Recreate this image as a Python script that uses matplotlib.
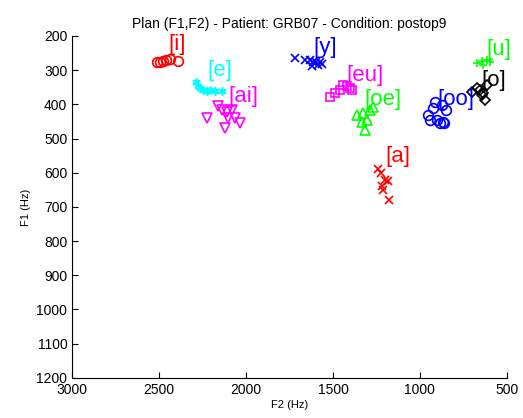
import matplotlib
matplotlib.use('Agg')
import matplotlib.pyplot as plt

plt.rcParams['font.family'] = ['Liberation Sans', 'DejaVu Sans']

# F2 / F1 values (Hz), one pair of lists per vowel
i_f2 = [2512, 2494, 2477, 2460, 2437, 2391]
i_f1 = [276, 276, 273, 270, 267, 273]

e_f2 = [2287, 2276, 2264, 2247, 2224, 2207, 2178, 2138]
e_f1 = [334, 346, 352, 358, 361, 358, 361, 361]

ai_f2 = [2224, 2161, 2138, 2109, 2080, 2103, 2063, 2034, 2121]
ai_f1 = [440, 405, 416, 422, 416, 440, 440, 454, 469]

y_f2 = [1718, 1661, 1632, 1615, 1598, 1575, 1621, 1586, 1563]
y_f1 = [264, 270, 270, 276, 276, 276, 288, 285, 282]

eu_f2 = [1517, 1489, 1460, 1443, 1420, 1402, 1391]
eu_f1 = [378, 367, 358, 343, 346, 352, 358]

oe_f2 = [1362, 1328, 1287, 1270, 1316, 1333, 1305]
oe_f1 = [431, 425, 416, 408, 475, 451, 446]

a_f2 = [1240, 1225, 1200, 1185, 1220, 1210, 1175]
a_f1 = [590, 600, 620, 625, 640, 650, 680]

oo_f2 = [955, 925, 914, 874, 850, 868, 885, 940, 902, 860]
oo_f1 = [431, 411, 392, 402, 416, 451, 455, 446, 446, 455]

u_f2 = [672, 644, 615, 598, 638]
u_f1 = [279, 273, 270, 276, 285]

o_f2 = [701, 672, 655, 638, 615, 626, 644]
o_f1 = [364, 352, 358, 367, 343, 387, 373]

labels = ['[i]', '[e]', '[ai]', '[y]', '[eu]', '[oe]', '[a]', '[oo]', '[u]', '[o]']
label_f2 = [2448, 2224, 2103, 1615, 1420, 1322, 1201, 902, 615, 644]
label_f1 = [226, 302, 378, 235, 317, 387, 554, 387, 241, 329]

series = [
    (i_f2, i_f1, 'o', 'r'),
    (e_f2, e_f1, (6, 2, 0), 'c'),
    (ai_f2, ai_f1, 'v', 'm'),
    (y_f2, y_f1, 'x', 'b'),
    (eu_f2, eu_f1, 's', 'm'),
    (oe_f2, oe_f1, '^', 'g'),
    (a_f2, a_f1, 'x', 'r'),
    (oo_f2, oo_f1, 'o', 'b'),
    (u_f2, u_f1, '+', 'g'),
    (o_f2, o_f1, 'D', 'k'),
]
colors = {'r': '#ff0000', 'c': '#00ffff', 'm': '#ff00ff', 'b': '#0000ff', 'g': '#00ff00', 'k': '#000000'}

fig = plt.figure(figsize=(5.23, 4.18), dpi=100)
ax = fig.add_axes([0.138, 0.096, 0.831, 0.818])

for (f2, f1, mk, c), lab, lx, ly in zip(series, labels, label_f2, label_f1):
    col = colors[c]
    size = 7 if mk in ('o', 'v', '^') else 6
    if mk == 'D':
        size = 5.5
    ax.plot(f2, f1, linestyle='none', marker=mk, markersize=size,
            markerfacecolor='none', markeredgecolor=col, markeredgewidth=1.2)
    ax.text(lx, ly, lab, color=col, fontsize=16, ha='left', va='center')

ax.set_xlim(3000, 500)
ax.set_ylim(1200, 200)
ax.set_xticks([3000, 2500, 2000, 1500, 1000, 500])
ax.set_yticks(range(200, 1201, 100))
ax.tick_params(direction='in', length=4, labelsize=10, width=0.8)
ax.spines['top'].set_visible(False)
ax.spines['right'].set_visible(False)

ax.set_title('Plan (F1,F2) - Patient: GRB07 - Condition: postop9', fontsize=10, pad=6)
ax.set_xlabel('F2 (Hz)', fontsize=8, labelpad=2)
ax.set_ylabel('F1 (Hz)', fontsize=8, labelpad=4)

fig.savefig('out.png', dpi=100)
